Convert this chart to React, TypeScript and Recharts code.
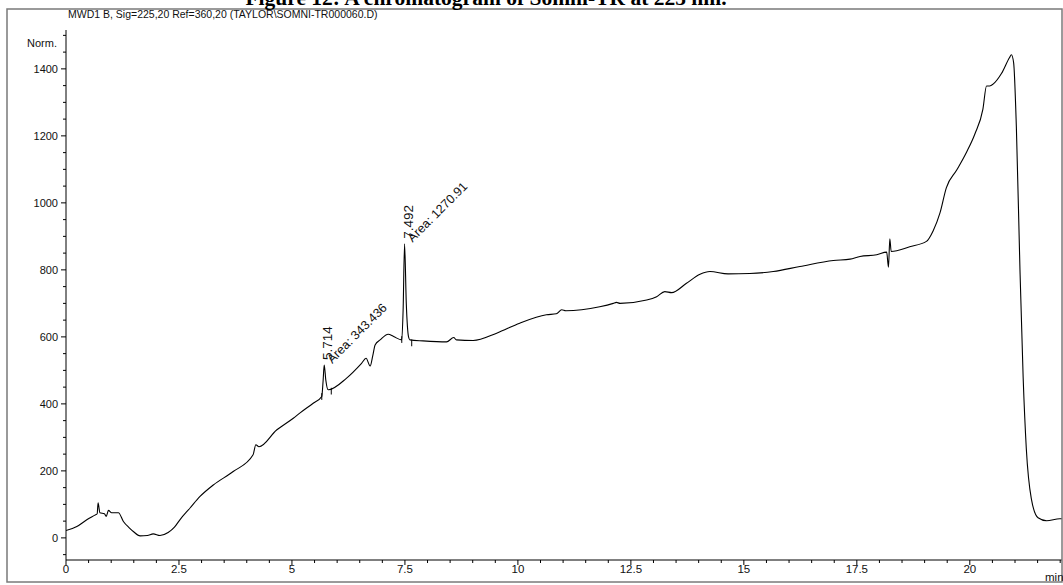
import React from 'react';
import { LineChart, Line, XAxis, YAxis, ReferenceDot, ReferenceLine } from 'recharts';

// retention time (min) and detector response (Norm.)
const times = [
  0.0, 0.24, 0.46, 0.64, 0.69, 0.71, 0.75, 0.85, 0.89, 0.94, 1.01, 1.16, 1.27, 1.4, 1.49, 1.64,
  1.8, 1.93, 2.08, 2.26, 2.4, 2.52, 2.75, 2.96, 3.26, 3.7, 4.14, 4.2, 4.27, 4.66, 5.03, 5.18,
  5.47, 5.66, 5.69, 5.714, 5.75, 5.8, 6.21, 6.54, 6.64, 6.73, 6.79, 6.84, 6.95, 7.13, 7.25, 7.43,
  7.46, 7.492, 7.53, 7.58, 7.61, 7.9, 8.42, 8.58, 8.64, 9.01, 9.53, 10.04, 10.63, 10.85, 10.97, 11.06,
  11.81, 12.11, 12.18, 12.26, 12.85, 13.07, 13.25, 13.4, 13.73, 14.03, 14.25, 14.65, 15.13, 15.65, 16.24, 16.98,
  17.35, 17.57, 17.94, 18.16, 18.2, 18.23, 18.26, 18.67, 19.04, 19.19, 19.34, 19.48, 19.71, 19.93, 20.11, 20.29,
  20.37, 20.44, 20.52, 20.7, 20.88, 20.92, 20.97, 21.03, 21.11, 21.18, 21.25, 21.36, 21.51, 21.7, 21.99, 22.04,
];
const signal = [
  22, 34, 54, 68, 72, 105, 75, 72, 64, 82, 75, 75, 49, 30, 19, 6,
  7, 12, 7, 16, 32, 54, 90, 123, 158, 198, 248, 278, 272, 322, 357, 373,
  402, 422, 470, 516, 470, 442, 477, 521, 536, 513, 545, 576, 591, 608, 601, 591,
  680, 878, 700, 600, 591, 588, 585, 598, 591, 589, 611, 641, 666, 669, 681, 678,
  690, 700, 703, 700, 710, 720, 735, 732, 760, 787, 795, 788, 789, 795, 810, 828,
  832, 840, 845, 853, 808, 893, 855, 869, 885, 917, 970, 1045, 1098, 1152, 1205, 1280,
  1349, 1349, 1355, 1386, 1434, 1442, 1418, 1227, 800, 480, 267, 118, 60, 51, 57, 57,
];

const xTicks = [
  0, 0.5, 1, 1.5, 2, 2.5, 3, 3.5, 4, 4.5, 5, 5.5, 6, 6.5, 7, 7.5, 8, 8.5, 9, 9.5, 10, 10.5,
  11, 11.5, 12, 12.5, 13, 13.5, 14, 14.5, 15, 15.5, 16, 16.5, 17, 17.5, 18, 18.5, 19, 19.5, 20, 20.5,
  21, 21.5, 22,
];
const xLabels = ['0', '2.5', '5', '7.5', '10', '12.5', '15', '17.5', '20'];
const yTicks = [
  -50, 0, 50, 100, 150, 200, 250, 300, 350, 400, 450, 500, 550, 600, 650, 700, 750, 800,
  850, 900, 950, 1000, 1050, 1100, 1150, 1200, 1250, 1300, 1350, 1400, 1450, 1500,
];
const yLabels = ['0', '200', '400', '600', '800', '1000', '1200', '1400'];

const peakTimes = [5.714, 7.492];
const peakHeights = [516, 878];
const peakAreas = ['343.436', '1270.91'];

// integration start/end marks
const eventTimes = [5.66, 5.87, 7.43, 7.65];
const eventLevels = [424, 440, 594, 584];

const data = times.map((t, i) => ({ t, v: signal[i] }));

const narrow = "'Liberation Sans Narrow', 'Liberation Sans', Arial, sans-serif";
const sans = "'Liberation Sans', Arial, sans-serif";

const XTick = (props: any) => {
  const { x, y, payload } = props;
  const label = xLabels.find((l) => Number(l) === payload.value);
  return (
    <g>
      <line x1={x} x2={x} y1={y} y2={y + (label ? 5 : 3)} stroke="#000" strokeWidth={1} />
      {label && (
        <text x={x} y={y + 13} textAnchor="middle" fontSize={11.5} fontFamily={narrow} fill="#111">
          {label}
        </text>
      )}
    </g>
  );
};

const YTick = (props: any) => {
  const { x, y, payload } = props;
  const label = yLabels.find((l) => Number(l) === payload.value);
  return (
    <g>
      <line x1={x - (label ? 5 : 3)} x2={x} y1={y} y2={y} stroke="#000" strokeWidth={1} />
      {label && (
        <text x={x - 8} y={y + 4} textAnchor="end" fontSize={11} fontFamily={sans} fill="#111">
          {label}
        </text>
      )}
    </g>
  );
};

const PeakLabel = ({ cx, cy, name, area }: any) => {
  if (cx == null || cy == null) return null;
  return (
    <g fontFamily={narrow} fill="#111">
      <text transform={`translate(${cx + 8},${cy - 5}) rotate(-90)`} fontSize={13.5}>
        {name}
      </text>
      <text transform={`translate(${cx + 8},${cy - 1}) rotate(-45)`} fontSize={12.5}>
        {`Area: ${area}`}
      </text>
    </g>
  );
};

export default function App() {
  return (
    <div style={{ position: 'absolute', left: 0, top: 0, width: 1063, height: 585, background: '#fff', overflow: 'hidden' }}>
      <LineChart width={1063} height={585} data={data} margin={{ top: 30, right: 1, bottom: 0, left: 0 }}>
        <XAxis
          dataKey="t"
          type="number"
          domain={[0, 22.04]}
          allowDataOverflow
          ticks={xTicks}
          interval={0}
          tick={<XTick />}
          tickLine={false}
          tickSize={0}
          tickMargin={0}
          height={25}
          axisLine={{ stroke: '#000' }}
        />
        <YAxis
          type="number"
          domain={[-66, 1516]}
          allowDataOverflow
          ticks={yTicks}
          interval={0}
          tick={<YTick />}
          tickLine={false}
          tickSize={0}
          tickMargin={0}
          width={66}
          axisLine={{ stroke: '#000' }}
        />
        <Line
          dataKey="v"
          type="monotone"
          stroke="#000"
          strokeWidth={1.1}
          dot={false}
          activeDot={false}
          isAnimationActive={false}
        />
        {eventTimes.map((t, i) => (
          <ReferenceLine
            key={`ev${i}`}
            segment={[
              { x: t, y: eventLevels[i] - 12 },
              { x: t, y: eventLevels[i] + 8 },
            ]}
            stroke="#000"
            strokeWidth={1}
          />
        ))}
        {peakTimes.map((t, i) => (
          <ReferenceDot
            key={`pk${i}`}
            x={t}
            y={peakHeights[i]}
            r={0}
            fill="none"
            stroke="none"
            shape={(p: any) => <PeakLabel cx={p.cx} cy={p.cy} name={t.toFixed(3)} area={peakAreas[i]} />}
          />
        ))}
      </LineChart>
      <svg width={1063} height={585} style={{ position: 'absolute', left: 0, top: 0, pointerEvents: 'none' }}>
        <rect x={7} y={9} width={1055} height={573} fill="none" stroke="#7a7a7a" strokeWidth={1.5} />
        <text x={486} y={5} textAnchor="middle" fontSize={21.5} fontWeight="bold" fontFamily="'Liberation Serif', 'Times New Roman', serif" fill="#000">
          Figure 12: A chromatogram of Somni-TR at 225 nm.
        </text>
        <text x={68} y={18} fontSize={10.5} fontFamily={sans} fill="#111">
          MWD1 B, Sig=225,20 Ref=360,20 (TAYLOR\SOMNI-TR000060.D)
        </text>
        <text x={27} y={47} fontSize={11} fontFamily={sans} fill="#111">
          Norm.
        </text>
        <text x={1045} y={581} fontSize={11.5} fontFamily={narrow} fill="#111">
          min
        </text>
      </svg>
    </div>
  );
}
